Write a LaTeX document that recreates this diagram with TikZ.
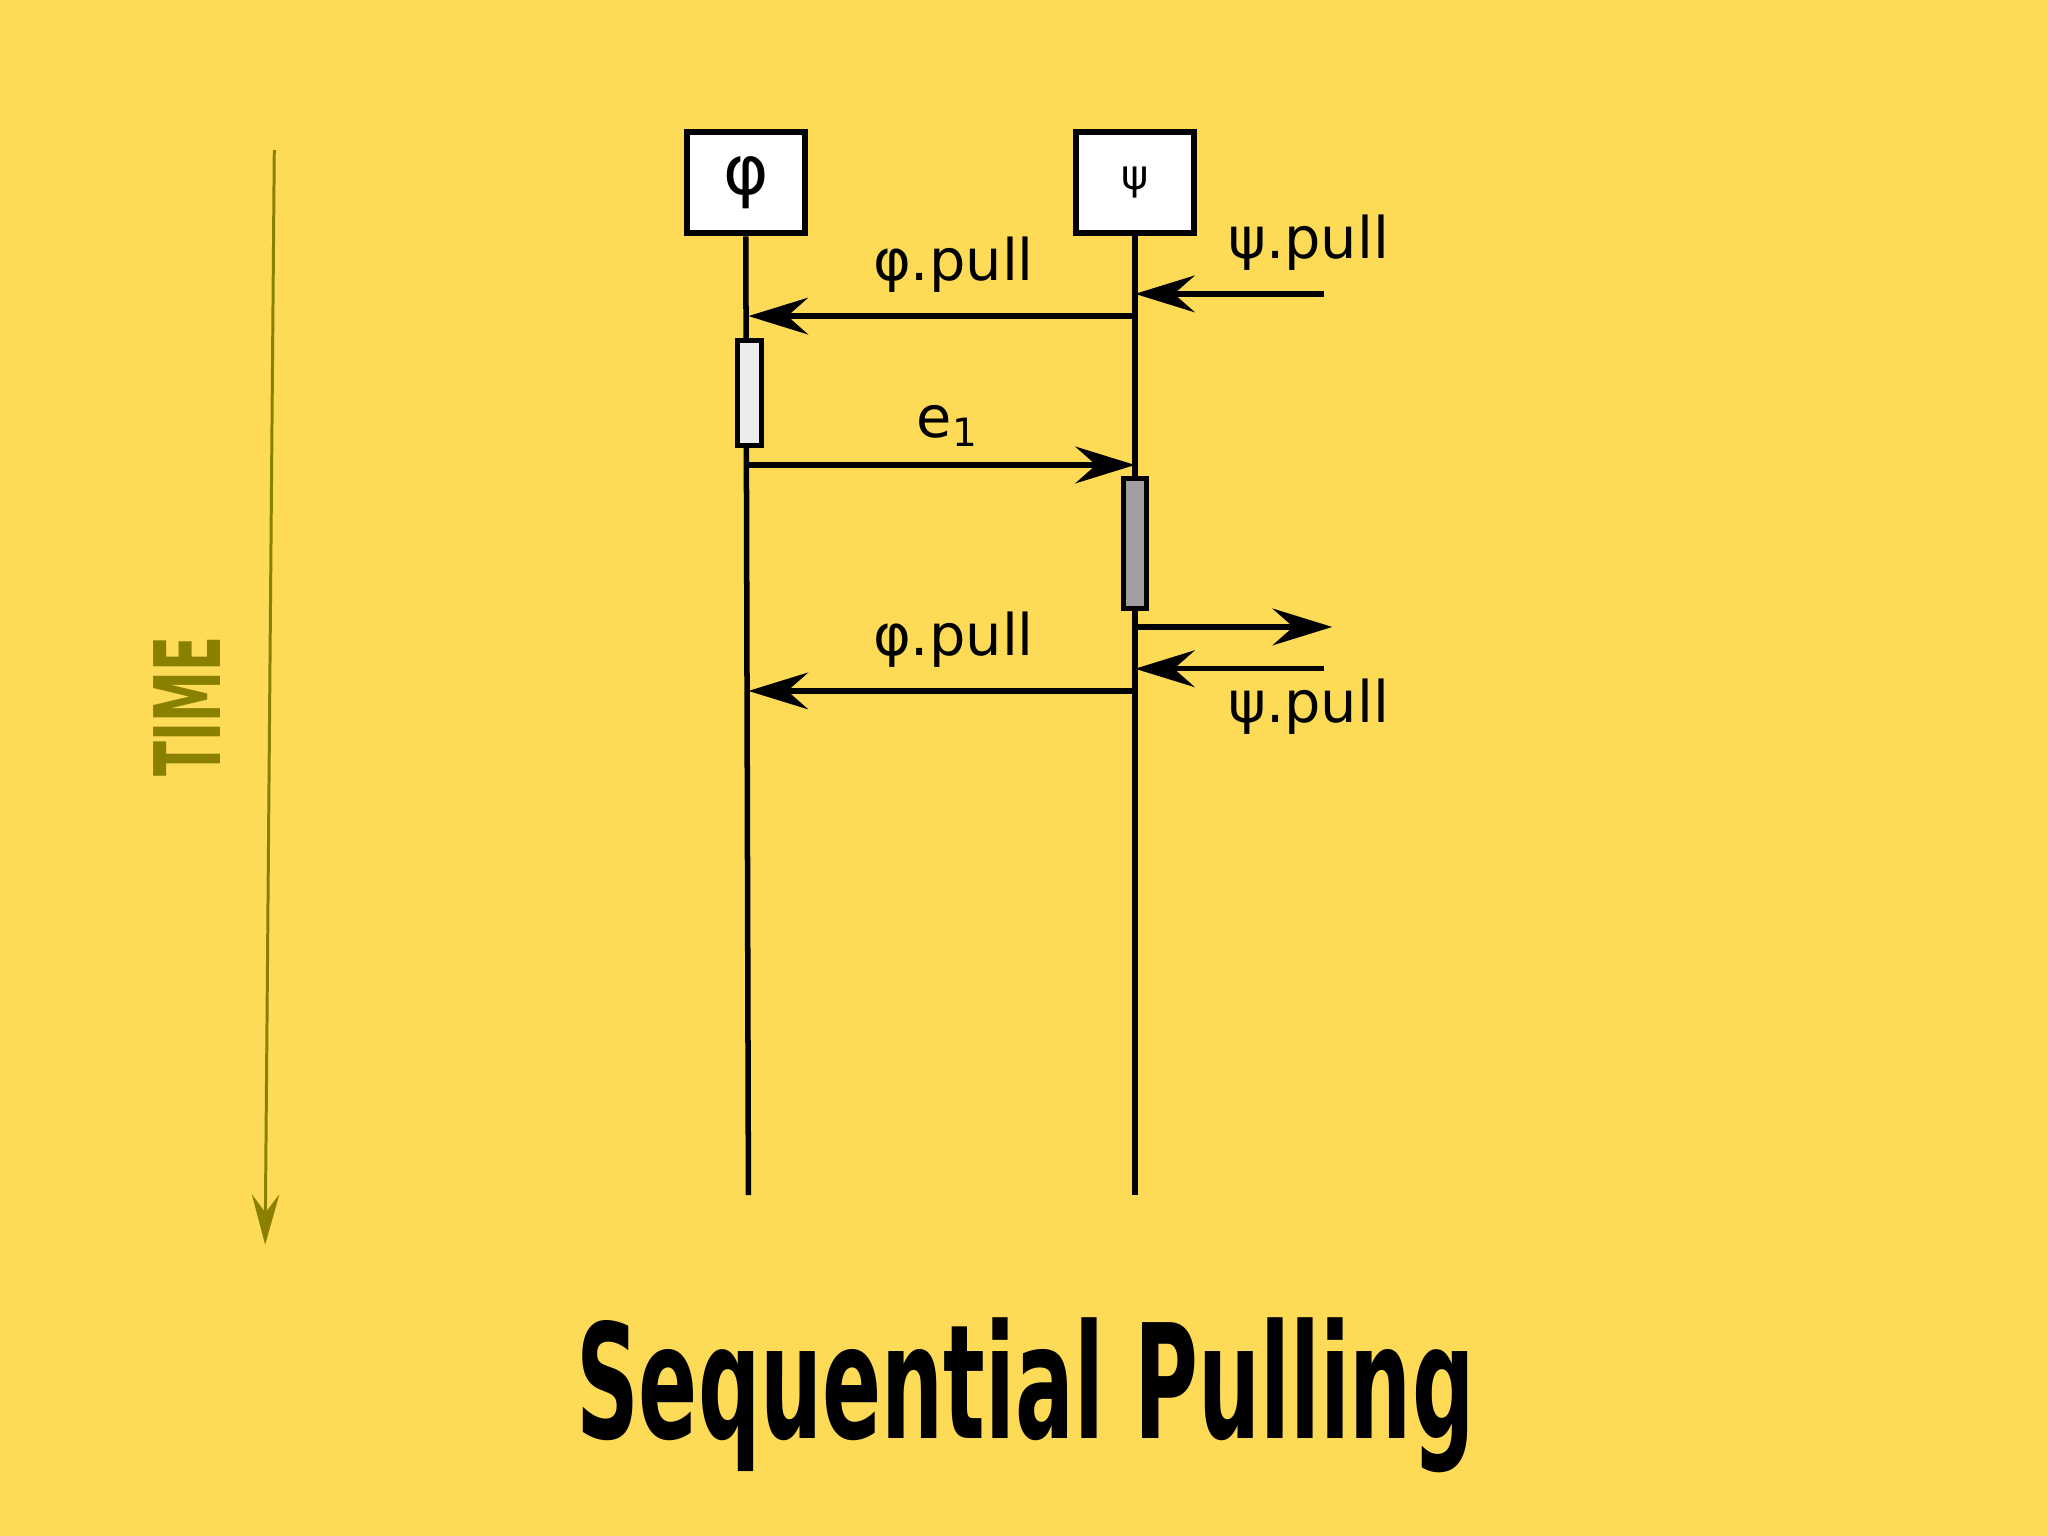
\documentclass[tikz,border=0pt]{standalone}
\usepackage{fontspec}
\setmainfont{DejaVu Sans}
\newfontfamily\condfont{DejaVu Sans Condensed Bold}
\usetikzlibrary{arrows.meta}
\definecolor{bg}{HTML}{FDDB57}
\definecolor{olive}{HTML}{8A8000}
\tikzset{
  x=0.02cm,y=-0.02cm,
  life/.style={line width=2.4pt},
  msg/.style={line width=2.4pt,-{Stealth[length=26pt,width=16pt,inset=9pt]}},
  obj/.style={draw,line width=2.6pt,fill=white,minimum width=1.8cm,minimum height=1.55cm,inner sep=0},
  lbl/.style={font=\fontsize{25}{28}\selectfont},
}
\begin{document}
\begin{tikzpicture}
\fill[bg] (0,0) rectangle (1568,1176);
\useasboundingbox (0,0) rectangle (1568,1176);
\node[obj] (A) at (571,140) {\fontsize{30}{34}\selectfont φ};
\node[obj] (B) at (869,140) {\fontsize{18}{20}\selectfont ψ};
\coordinate (Aend) at (573,915);
\coordinate (Bend) at (869,915);
\draw[life] (A.south) -- (Aend);
\draw[life] (B.south) -- (Bend);
% activations
\node[draw,line width=2.2pt,fill=gray!15,minimum width=0.36cm,minimum height=1.6cm,inner sep=0] (actA) at (574,301) {};
\node[draw,line width=2.2pt,fill=gray!75,minimum width=0.36cm,minimum height=2cm,inner sep=0] (actB) at (869,416) {};
% messages
\coordinate (b1) at (869,242); \coordinate (a1) at (573,242);
\draw[msg] (b1) -- (a1);
\node[lbl] (l0) at (730,203) {φ.pull};
\coordinate (p1) at (1014,225); \coordinate (q1) at (869,225);
\draw[msg] (p1) -- (q1);
\node[lbl] (l1) at (1002,186) {ψ.pull};
\coordinate (a2) at (573,356); \coordinate (b2) at (869,356);
\draw[msg] (a2) -- (b2);
\node[lbl] (l2) at (725,326) {e\raisebox{-0.3ex}{\fontsize{17}{18}\selectfont 1}};
\coordinate (b3) at (869,480); \coordinate (o3) at (1020,480);
\draw[msg] (b3) -- (o3);
\coordinate (p4) at (1014,512); \coordinate (q4) at (869,512);
\draw[msg] (p4) -- (q4);
\node[lbl] (l4) at (1002,541) {ψ.pull};
\coordinate (b5) at (869,529); \coordinate (a5) at (573,529);
\draw[msg] (b5) -- (a5);
\node[lbl] (l5) at (730,490) {φ.pull};
% time
\coordinate (t0) at (210,115); \coordinate (t1) at (203,953);
\draw[olive,line width=1.3pt,-{Stealth[length=22pt,width=12pt,inset=8pt]}] (t0) -- (t1);
\node[olive,rotate=90,font=\condfont\fontsize{40}{40}\selectfont] (time) at (143,541) {\scalebox{0.62}[1]{TIME}};
\node[font=\condfont\fontsize{66}{66}\selectfont] (title) at (785,1068) {\scalebox{0.64}[1.05]{Sequential Pulling}};
\end{tikzpicture}
\end{document}
